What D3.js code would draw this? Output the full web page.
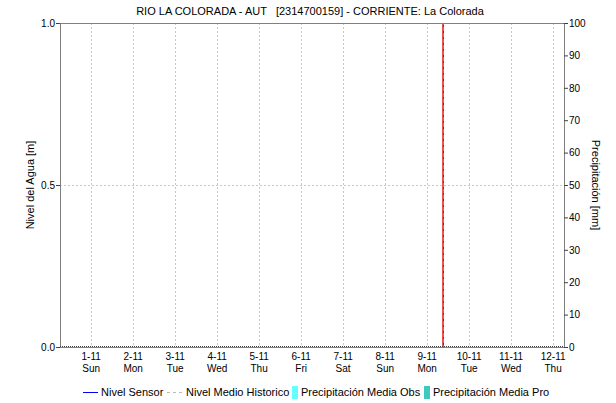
<!DOCTYPE html>
<html>
<head>
<meta charset="utf-8">
<script src="https://cdn.jsdelivr.net/npm/d3@7"></script>
<style>
  body { margin: 0; background: #fff; }
  text { font-family: "Liberation Sans", Arial, sans-serif; }
</style>
</head>
<body>
<div id="chart"></div>
<script>
// chart values
var dias = ["2020-11-01", "2020-11-02", "2020-11-03", "2020-11-04", "2020-11-05", "2020-11-06",
            "2020-11-07", "2020-11-08", "2020-11-09", "2020-11-10", "2020-11-11", "2020-11-12"];
var diasSemana = ["Sun", "Mon", "Tue", "Wed", "Thu", "Fri", "Sat", "Sun", "Mon", "Tue", "Wed", "Thu"];
var nivelTicks = [0.0, 0.5, 1.0];
var precipTicks = [0, 10, 20, 30, 40, 50, 60, 70, 80, 90, 100];
var nivelSensor = [];
var nivelMedio = [];
var precipObs = [];
var precipPro = [];
var ahora = "2020-11-09T09:20";
var rangoInicio = "2020-10-31T06:30", rangoFin = "2020-11-12T06:30";

var width = 616, height = 403;
var margin = { top: 23, right: 52, bottom: 56, left: 60 };
var w = width - margin.left - margin.right,
    h = height - margin.top - margin.bottom;

var parse = d3.isoParse;

var x = d3.scaleTime()
    .domain([parse(rangoInicio), parse(rangoFin)])
    .range([0, w]);
var yL = d3.scaleLinear().domain([0, 1]).range([h, 0]);
var yR = d3.scaleLinear().domain([0, 100]).range([h, 0]);

var svg = d3.select("#chart").append("svg")
    .attr("width", width)
    .attr("height", height);

svg.append("text")
    .attr("x", 310).attr("y", 15)
    .attr("text-anchor", "middle")
    .style("font-size", "11px")
    .attr("xml:space", "preserve")
    .text("RIO LA COLORADA - AUT   [2314700159] - CORRIENTE: La Colorada");

var g = svg.append("g")
    .attr("transform", "translate(" + margin.left + "," + margin.top + ")");

// grid
g.selectAll(".vgrid")
    .data(dias)
    .enter().append("line")
    .attr("x1", function (d) { return Math.round(x(parse(d))) + 0.5; })
    .attr("x2", function (d) { return Math.round(x(parse(d))) + 0.5; })
    .attr("y1", 0).attr("y2", h)
    .style("stroke", "#c8c8c8")
    .style("stroke-dasharray", "2,2");

g.append("line")
    .attr("x1", 0).attr("x2", w)
    .attr("y1", Math.round(yL(0.5)) + 0.5).attr("y2", Math.round(yL(0.5)) + 0.5)
    .style("stroke", "#c8c8c8")
    .style("stroke-dasharray", "2,2");

// series (empty)
var line = d3.line()
    .x(function (d) { return x(parse(d.t)); })
    .y(function (d) { return yL(d.v); });
g.append("path").datum(nivelSensor).attr("d", line).style("fill", "none").style("stroke", "#0000ff");
g.append("path").datum(nivelMedio).attr("d", line).style("fill", "none").style("stroke", "#bbb");

// current time marker
var xa = Math.round(x(parse(ahora)));
g.append("line")
    .attr("x1", xa).attr("x2", xa)
    .attr("y1", 0).attr("y2", h)
    .style("stroke", "#f05050")
    .style("stroke-width", 2);
g.append("line")
    .attr("x1", xa + 0.5).attr("x2", xa + 0.5)
    .attr("y1", 2).attr("y2", h)
    .style("stroke", "#a02020")
    .style("stroke-dasharray", "2,4");

// frame
g.append("rect")
    .attr("x", 0.5).attr("y", 0.5)
    .attr("width", w).attr("height", h)
    .style("fill", "none")
    .style("stroke", "#808080");

// dotted base line
g.append("line")
    .attr("x1", 0).attr("x2", w)
    .attr("y1", h - 0.5).attr("y2", h - 0.5)
    .style("stroke", "#404040")
    .style("stroke-dasharray", "1,1");

// left axis
var axL = g.append("g")
    .call(d3.axisLeft(yL).tickValues(nivelTicks).tickFormat(d3.format(".1f")).tickSize(4).tickSizeOuter(0));
// right axis
var axR = g.append("g")
    .attr("transform", "translate(" + w + ",0)")
    .call(d3.axisRight(yR).tickValues(precipTicks).tickSize(4).tickSizeOuter(0));

[axL, axR].forEach(function (a) {
    a.select(".domain").remove();
    a.selectAll(".tick line").attr("stroke", "#404040");
    a.selectAll(".tick text").style("font-size", "10px").attr("fill", "#000")
        .style("font-family", "'Liberation Sans', Arial, sans-serif");
});
axL.selectAll(".tick text").attr("x", -5);
axR.selectAll(".tick text").attr("x", 5);

// x labels
var xl = g.selectAll(".xlab")
    .data(dias)
    .enter().append("text")
    .attr("text-anchor", "middle")
    .attr("x", function (d) { return x(parse(d)) + 0.5; })
    .attr("y", h + 13)
    .style("font-size", "10px");
xl.append("tspan")
    .attr("x", function (d) { return x(parse(d)) + 0.5; })
    .text(function (d) { var p = d.split("-"); return (+p[2]) + "-" + (+p[1]); });
xl.append("tspan")
    .attr("x", function (d) { return x(parse(d)) + 0.5; })
    .attr("dy", 12)
    .text(function (d, i) { return diasSemana[i]; });

// axis titles
svg.append("text")
    .attr("transform", "translate(34," + (margin.top + h / 2) + ") rotate(-90)")
    .attr("text-anchor", "middle")
    .style("font-size", "11px")
    .text("Nivel del Agua [m]");
svg.append("text")
    .attr("transform", "translate(592," + (margin.top + h / 2) + ") rotate(90)")
    .attr("text-anchor", "middle")
    .style("font-size", "11px")
    .text("Precipitación [mm]");

// legend
var ly = 392;
var leg = svg.append("g").style("font-size", "11px");
leg.append("line").attr("x1", 83).attr("x2", 98).attr("y1", ly + 0.5).attr("y2", ly + 0.5)
    .style("stroke", "#0000ff");
leg.append("text").attr("x", 101).attr("y", ly + 4).text("Nivel Sensor");
leg.append("line").attr("x1", 167).attr("x2", 183).attr("y1", ly + 0.5).attr("y2", ly + 0.5)
    .style("stroke", "#bbb").style("stroke-dasharray", "3,3");
leg.append("text").attr("x", 186).attr("y", ly + 4).text("Nivel Medio Historico");
leg.append("rect").attr("x", 292).attr("y", ly - 6).attr("width", 6).attr("height", 13)
    .style("fill", "#66ffff");
leg.append("text").attr("x", 301).attr("y", ly + 4).text("Precipitación Media Obs");
leg.append("rect").attr("x", 424).attr("y", ly - 6).attr("width", 6).attr("height", 13)
    .style("fill", "#40c8c0");
leg.append("text").attr("x", 433).attr("y", ly + 4).text("Precipitación Media Pro");
</script>
</body>
</html>
